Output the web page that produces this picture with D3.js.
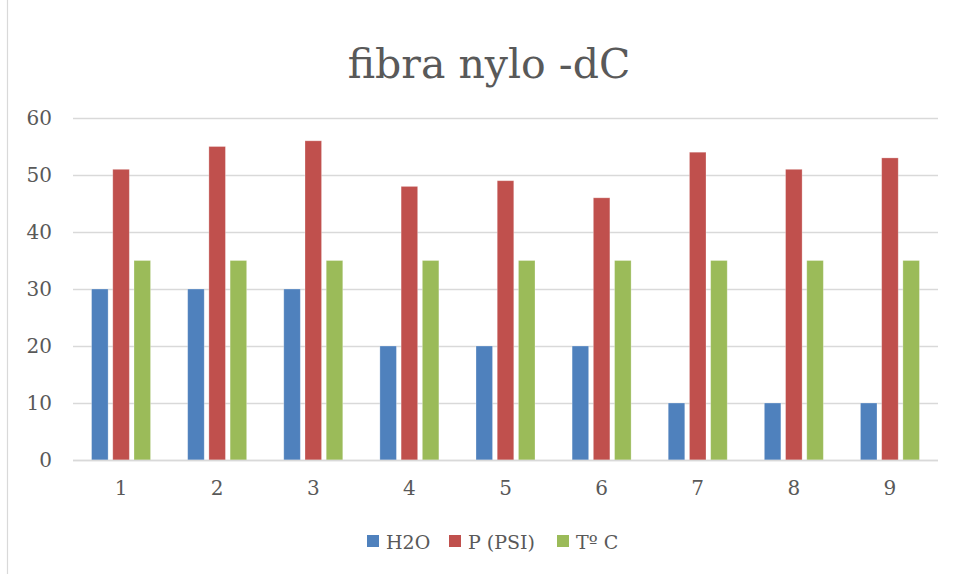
<!DOCTYPE html>
<html>
<head>
<meta charset="utf-8">
<script src="https://cdn.jsdelivr.net/npm/d3@7"></script>
<style>
  html, body { margin: 0; padding: 0; background: #fff; }
  svg { display: block; }
  text { font-family: "DejaVu Serif", "Liberation Serif", serif; fill: #595959; }
</style>
</head>
<body>
<svg id="chart" width="955" height="574"></svg>
<script>
// Chart data
const categories = ["1", "2", "3", "4", "5", "6", "7", "8", "9"];
const seriesNames = ["H2O", "P (PSI)", "Tº C"];
const h2o = [30, 30, 30, 20, 20, 20, 10, 10, 10];
const psi = [51, 55, 56, 48, 49, 46, 54, 51, 53];
const temp = [35, 35, 35, 35, 35, 35, 35, 35, 35];
const yTicks = [0, 10, 20, 30, 40, 50, 60];
const colors = ["#4F81BD", "#C0504D", "#9BBB59"];
const title = "fibra nylo -dC";

const seriesValues = [h2o, psi, temp];

const svg = d3.select("#chart");
const W = 955, H = 574;
const plot = { left: 73, right: 938, top: 118, bottom: 460 };

// Outer chart frame (left edge visible)
svg.append("line")
  .attr("x1", 7.5).attr("x2", 7.5).attr("y1", 0).attr("y2", H)
  .attr("stroke", "#D9D9D9").attr("stroke-width", 1.2);

// Title
svg.append("text")
  .attr("x", 489)
  .attr("y", 78)
  .attr("text-anchor", "middle")
  .style("font-size", "41px")
  .text(title);

const x = d3.scaleBand().domain(categories).range([plot.left, plot.right]);
const y = d3.scaleLinear().domain([0, 60]).range([plot.bottom, plot.top]);
const inner = d3.scaleBand().domain(seriesNames).range([0, 59]).paddingInner(0.22);

// Gridlines
const grid = svg.append("g");
grid.selectAll("line").data(yTicks).join("line")
  .attr("x1", plot.left).attr("x2", plot.right)
  .attr("y1", d => Math.round(y(d)) + 0.5).attr("y2", d => Math.round(y(d)) + 0.5)
  .attr("stroke", "#D9D9D9").attr("stroke-width", 1.3);

// Y axis labels
const yAxis = d3.axisLeft(y).tickValues(yTicks).tickSize(0).tickPadding(21);
const gy = svg.append("g").attr("transform", `translate(${plot.left},0)`).call(yAxis);
gy.select(".domain").remove();
gy.selectAll("text").style("font-size", "20px").attr("fill", "#595959")
  .style("font-family", "DejaVu Serif, serif");

// X axis labels
const xAxis = d3.axisBottom(x).tickSize(0).tickPadding(21);
const gx = svg.append("g").attr("transform", `translate(0,${plot.bottom})`).call(xAxis);
gx.select(".domain").remove();
gx.selectAll("text").style("font-size", "20px").attr("fill", "#595959")
  .style("font-family", "DejaVu Serif, serif");

// Bars
const groupOffset = (x.bandwidth() - inner.range()[1]) / 2;
seriesNames.forEach((name, si) => {
  svg.append("g").selectAll("rect").data(seriesValues[si]).join("rect")
    .attr("x", (d, i) => x(categories[i]) + groupOffset + inner(name))
    .attr("y", d => y(d))
    .attr("width", inner.bandwidth())
    .attr("height", d => y(0) - y(d))
    .attr("fill", colors[si])
    .attr("stroke", "#ffffff").attr("stroke-opacity", 0.35).attr("stroke-width", 0.8);
});

// Baseline
svg.append("line")
  .attr("x1", plot.left).attr("x2", plot.right)
  .attr("y1", plot.bottom + 0.5).attr("y2", plot.bottom + 0.5)
  .attr("stroke", "#D9D9D9").attr("stroke-width", 1.3);

// Legend
const legendX = [367, 449, 557];
const legend = svg.append("g");
seriesNames.forEach((name, i) => {
  legend.append("rect")
    .attr("x", legendX[i]).attr("y", 535)
    .attr("width", 12).attr("height", 12)
    .attr("fill", colors[i]);
  legend.append("text")
    .attr("x", legendX[i] + 19).attr("y", 549)
    .style("font-size", "19px")
    .text(name);
});
</script>
</body>
</html>
